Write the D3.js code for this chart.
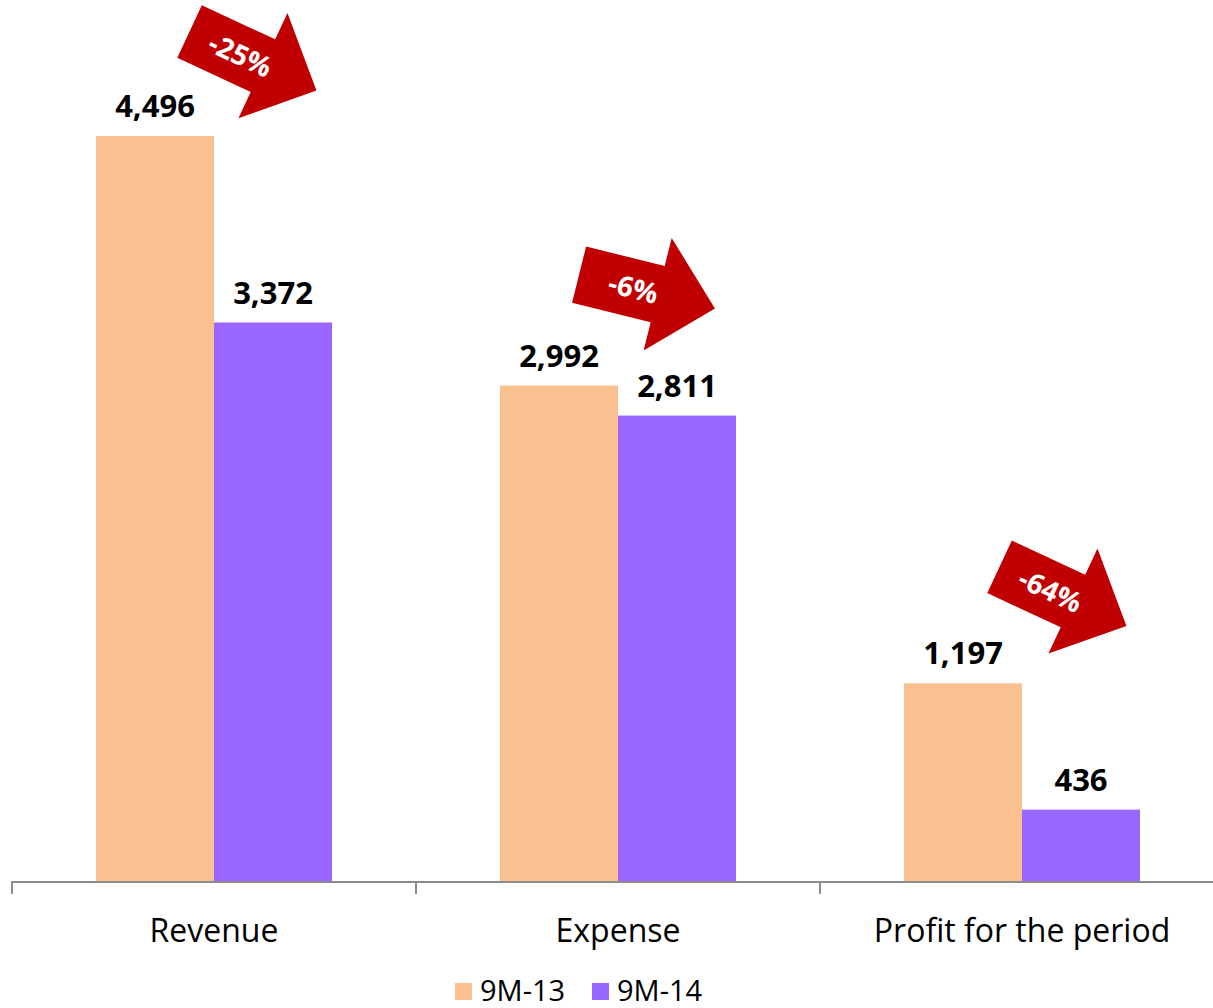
<!DOCTYPE html>
<html>
<head>
<meta charset="utf-8">
<script src="https://cdn.jsdelivr.net/npm/d3@7"></script>
<style>
  html, body { margin: 0; padding: 0; background: #fff; }
  svg { display: block; font-family: 'Open Sans', sans-serif; }
</style>
</head>
<body>
<div id="chart"></div>
<script>
const categories = ['Revenue', 'Expense', 'Profit for the period'];
const seriesNames = ['9M-13', '9M-14'];
const values913 = [4496, 2992, 1197];
const values914 = [3372, 2811, 436];
const changeLabels = ['-25%', '-6%', '-64%'];
const arrowAngles = [25, 14, 25];
// where each arrow sits relative to its category centre / first bar top
const arrowNudges = [[39, -75], [29, -94], [41, -87]];

const width = 1213;
const height = 1008;
const colors = { '9M-13': '#FAC090', '9M-14': '#9966FF' };

const svg = d3
  .select('#chart')
  .append('svg')
  .attr('width', width)
  .attr('height', height);

const x = d3.scaleBand().domain(categories).range([12, 1224]);
const x1 = d3.scaleBand().domain(seriesNames).range([84, 320]);
const y = d3.scaleLinear().domain([0, 4496]).range([882, 136]);

const rows = categories.map((c, i) => ({
  category: c,
  values: [
    { series: '9M-13', value: values913[i] },
    { series: '9M-14', value: values914[i] }
  ],
  change: changeLabels[i],
  angle: arrowAngles[i],
  nudge: arrowNudges[i]
}));

// bars
const groups = svg
  .selectAll('g.cat')
  .data(rows)
  .join('g')
  .attr('class', 'cat')
  .attr('transform', d => `translate(${x(d.category)},0)`);

groups
  .selectAll('rect')
  .data(d => d.values)
  .join('rect')
  .attr('x', d => x1(d.series))
  .attr('width', x1.bandwidth())
  .attr('y', d => y(d.value))
  .attr('height', d => y(0) - y(d.value))
  .attr('fill', d => colors[d.series]);

groups
  .selectAll('text.val')
  .data(d => d.values)
  .join('text')
  .attr('class', 'val')
  .attr('x', d => x1(d.series) + x1.bandwidth() / 2)
  .attr('y', d => y(d.value) - 19)
  .attr('text-anchor', 'middle')
  .attr('font-size', 31)
  .attr('font-weight', 'bold')
  .attr('fill', '#000')
  .text(d => d3.format(',')(d.value));

// axis
const axis = svg
  .append('g')
  .attr('transform', `translate(0,${y(0)})`)
  .call(
    d3
      .axisBottom(x)
      .tickSize(0)
      .tickPadding(37)
  );
axis.select('.domain').attr('stroke', '#8c8c8c').attr('stroke-width', 2)
  .attr('d', `M12,12V0H1224V12`);
axis
  .selectAll('.tick text')
  .attr('font-size', 32)
  .attr('font-family', "'Open Sans', sans-serif")
  .attr('fill', '#000');

svg
  .append('g')
  .selectAll('line')
  .data(categories)
  .join('line')
  .attr('x1', d => x(d))
  .attr('x2', d => x(d))
  .attr('y1', y(0))
  .attr('y2', y(0) + 12)
  .attr('stroke', '#8c8c8c')
  .attr('stroke-width', 2);

// change arrows
const arrowShape = [
  [0, -29], [81, -29], [81, -58], [140, 0], [81, 58], [81, 29], [0, 29]
].map(p => [p[0] - 70, p[1]]);

const arrows = svg
  .selectAll('g.arrow')
  .data(rows)
  .join('g')
  .attr('class', 'arrow')
  .attr('transform', d => {
    const cx = x(d.category) + x.bandwidth() / 2 + d.nudge[0];
    const cy = y(d.values[0].value) + d.nudge[1];
    return `translate(${cx},${cy}) rotate(${d.angle})`;
  });

arrows
  .append('path')
  .attr('d', d3.line()(arrowShape) + 'Z')
  .attr('fill', '#C00000');

arrows
  .append('text')
  .attr('x', -14)
  .attr('y', 0)
  .attr('dy', '0.36em')
  .attr('text-anchor', 'middle')
  .attr('font-size', 28)
  .attr('font-weight', 'bold')
  .attr('fill', '#fff')
  .text(d => d.change);

// legend
const legend = svg
  .append('g')
  .selectAll('g')
  .data(seriesNames)
  .join('g')
  .attr('transform', (d, i) => `translate(${455 + i * 137},983)`);

legend
  .append('rect')
  .attr('width', 17)
  .attr('height', 17)
  .attr('fill', d => colors[d]);

legend
  .append('text')
  .attr('x', 25)
  .attr('y', 18)
  .attr('font-size', 29)
  .attr('fill', '#000')
  .text(d => d);
</script>
</body>
</html>
